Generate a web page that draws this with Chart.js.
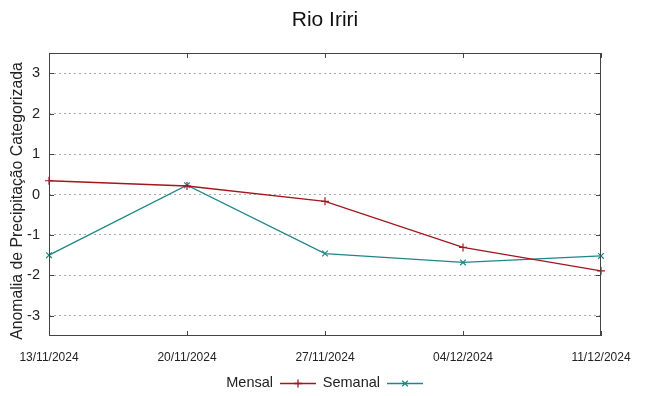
<!DOCTYPE html>
<html>
<head>
<meta charset="utf-8">
<script src="https://cdn.jsdelivr.net/npm/chart.js@4/dist/chart.umd.min.js"></script>
<style>
  html, body { margin: 0; padding: 0; background: #fff; }
  #wrap { width: 649px; height: 396px; }
</style>
</head>
<body>
<div id="wrap"><canvas id="chart" width="649" height="396"></canvas></div>
<script>
// chart data
const dates = ['13/11/2024', '20/11/2024', '27/11/2024', '04/12/2024', '11/12/2024'];
const mensal = [0.34, 0.21, -0.17, -1.31, -1.89];
const semanal = [-1.5, 0.23, -1.46, -1.68, -1.52];
const yTicks = [-3, -2, -1, 0, 1, 2, 3];

const RED = '#a3161e';
const TEAL = '#1f8686';
const FONT = "'Liberation Sans', Arial, sans-serif";
const NARROW = "'Liberation Sans Narrow', 'Liberation Sans', sans-serif";

// titles, frame, inner ticks and the gnuplot-style legend (text before sample)
const framePlugin = {
  id: 'frame',
  afterDraw(chart) {
    const ctx = chart.ctx;
    const a = chart.chartArea;
    const xs = chart.scales.x, ys = chart.scales.y;
    ctx.save();

    ctx.font = '21px ' + FONT;
    ctx.fillStyle = '#111';
    ctx.textAlign = 'center';
    ctx.textBaseline = 'middle';
    ctx.fillText('Rio Iriri', (a.left + a.right) / 2, 20);

    // y axis title, a bit below the plot centre like the reference
    ctx.save();
    ctx.translate(17.5, 201);
    ctx.rotate(-Math.PI / 2);
    ctx.font = '15.8px ' + FONT;
    ctx.fillStyle = '#222';
    ctx.fillText('Anomalia de Precipitação Categorizada', 0, 0);
    ctx.restore();

    ctx.strokeStyle = '#444';
    ctx.lineWidth = 1;
    ctx.strokeRect(a.left + 0.5, a.top + 0.5, a.right - a.left - 1, a.bottom - a.top - 1);
    // inner ticks
    ctx.beginPath();
    yTicks.forEach(v => {
      const y = Math.round(ys.getPixelForValue(v)) + 0.5;
      ctx.moveTo(a.left, y); ctx.lineTo(a.left + 5, y);
      ctx.moveTo(a.right, y); ctx.lineTo(a.right - 5, y);
    });
    dates.forEach((d, i) => {
      const x = Math.round(xs.getPixelForValue(i)) + 0.5;
      ctx.moveTo(x, a.bottom); ctx.lineTo(x, a.bottom - 5);
      ctx.moveTo(x, a.top); ctx.lineTo(x, a.top + 5);
    });
    ctx.stroke();

    // legend
    ctx.font = '14.5px ' + FONT;
    ctx.fillStyle = '#222';
    ctx.textAlign = 'right';
    const ly = 383;
    const items = [
      { label: 'Mensal', end: 273, color: RED, style: 'cross' },
      { label: 'Semanal', end: 380, color: TEAL, style: 'crossRot' }
    ];
    items.forEach(it => {
      ctx.fillText(it.label, it.end, ly);
      const x0 = it.end + 7, x1 = it.end + 43, cx = (x0 + x1) / 2;
      ctx.strokeStyle = it.color;
      ctx.lineWidth = 1.3;
      ctx.beginPath();
      ctx.moveTo(x0, ly + 0.5); ctx.lineTo(x1, ly + 0.5);
      ctx.stroke();
      Chart.helpers.drawPoint(ctx, { pointStyle: it.style, radius: 4, borderWidth: 1.2 }, cx, ly + 0.5);
    });
    ctx.restore();
  }
};

new Chart(document.getElementById('chart'), {
  type: 'line',
  data: {
    labels: dates,
    datasets: [
      {
        label: 'Mensal',
        data: mensal,
        borderColor: RED,
        backgroundColor: RED,
        borderWidth: 1.3,
        pointStyle: 'cross',
        pointRadius: 4,
        pointBorderWidth: 1.2,
        tension: 0
      },
      {
        label: 'Semanal',
        data: semanal,
        borderColor: TEAL,
        backgroundColor: TEAL,
        borderWidth: 1.3,
        pointStyle: 'crossRot',
        pointRadius: 4,
        pointBorderWidth: 1.2,
        tension: 0
      }
    ]
  },
  options: {
    responsive: false,
    animation: false,
    layout: { padding: { left: 0, right: 48, top: 53, bottom: 0 } },
    plugins: {
      legend: { display: false },
      tooltip: { enabled: false },
      title: { display: false }
    },
    scales: {
      x: {
        type: 'category',
        offset: false,
        grid: { display: false, drawTicks: false },
        border: { display: false },
        ticks: {
          color: '#222',
          font: { family: NARROW, size: 12 },
          padding: 14,
          maxRotation: 0,
          autoSkip: false
        },
        afterFit(scale) { scale.height = 60; }
      },
      y: {
        min: -3.5,
        max: 3.5,
        afterBuildTicks(scale) { scale.ticks = yTicks.map(v => ({ value: v })); },
        grid: {
          color: '#aaa',
          lineWidth: 1,
          drawTicks: false
        },
        border: { display: false, dash: [2, 3] },
        ticks: {
          color: '#222',
          font: { family: FONT, size: 14.5 },
          padding: 9
        },
        afterFit(scale) { scale.width = 49; }
      }
    }
  },
  plugins: [framePlugin]
});
</script>
</body>
</html>
